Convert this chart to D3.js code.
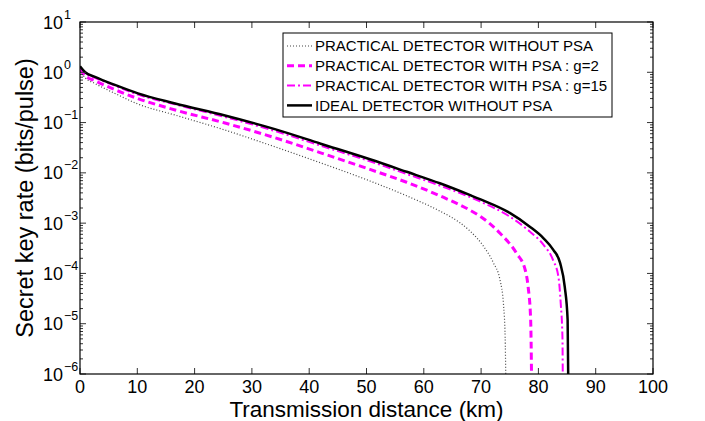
<!DOCTYPE html>
<html>
<head>
<meta charset="utf-8">
<script src="https://cdn.jsdelivr.net/npm/d3@7"></script>
<style>
  body { margin: 0; background: #fff; }
  text { font-family: "Liberation Sans", Arial, Helvetica, sans-serif; fill: #000; }
</style>
</head>
<body>
<svg width="705" height="421"></svg>
<script>
// distances (km) and key rates (bits/pulse)
const distIdeal = [0, 0.9, 2.6, 6.1, 10.1, 16.6, 25.3, 34.0, 42.0, 50.6, 57.0, 62.8, 68.1, 69.8, 75.0, 78.5, 80.9, 82.6, 83.8, 84.6, 85.1, 85.2];
const rateIdeal = [1.32, 1.0, 0.81, 0.56, 0.38, 0.24, 0.138, 0.074, 0.038, 0.0186, 0.0105, 6.2e-3, 3.6e-3, 3.0e-3, 1.6e-3, 8.5e-4, 5.0e-4, 2.95e-4, 1.6e-4, 5.4e-5, 1.2e-5, 1e-6];

const distG15 = [0, 0.9, 2.6, 6.1, 10.1, 16.6, 25.3, 34.0, 42.0, 50.6, 57.0, 62.8, 69.8, 75.0, 78.5, 80.9, 82.6, 83.5, 83.9, 84.2, 84.25];
const rateG15 = [1.26, 0.95, 0.78, 0.54, 0.36, 0.23, 0.129, 0.068, 0.0347, 0.0170, 9.5e-3, 5.6e-3, 2.7e-3, 1.35e-3, 6.8e-4, 3.7e-4, 1.8e-4, 8.5e-5, 2.5e-5, 5.2e-6, 1e-6];

const distG2 = [0, 0.9, 2.6, 6.1, 10.1, 16.6, 25.3, 34.0, 42.0, 50.6, 57.0, 62.8, 68.1, 69.8, 73.3, 76.2, 77.7, 78.2, 78.65, 78.8];
const rateG2 = [1.15, 0.85, 0.68, 0.45, 0.30, 0.178, 0.098, 0.050, 0.025, 0.0117, 6.5e-3, 3.5e-3, 1.8e-3, 1.38e-3, 6.3e-4, 2.5e-4, 1.17e-4, 5.5e-5, 1.2e-5, 1e-6];

const distNoPsa = [0, 0.9, 2.6, 6.1, 10.1, 16.6, 25.3, 34.0, 42.0, 50.6, 57.0, 62.8, 64.6, 66.3, 68.1, 70.4, 72.1, 73.3, 73.9, 74.2, 74.3];
const rateNoPsa = [1.07, 0.78, 0.60, 0.38, 0.234, 0.141, 0.071, 0.033, 0.0158, 6.9e-3, 3.5e-3, 1.74e-3, 1.35e-3, 1.02e-3, 6.9e-4, 3.5e-4, 1.66e-4, 7.4e-5, 2.5e-5, 5.2e-6, 1e-6];

const xTicks = [0, 10, 20, 30, 40, 50, 60, 70, 80, 90, 100];
const yExponents = [1, 0, -1, -2, -3, -4, -5, -6];

const legendLabels = [
  'PRACTICAL DETECTOR WITHOUT PSA',
  'PRACTICAL DETECTOR WITH PSA : g=2',
  'PRACTICAL DETECTOR WITH PSA : g=15',
  'IDEAL DETECTOR WITHOUT PSA'
];

const svg = d3.select('svg');
const plotLeft = 80, plotRight = 653, plotTop = 22, plotBottom = 374;

const x = d3.scaleLinear().domain([0, 100]).range([plotLeft, plotRight]);
const y = d3.scaleLog().domain([1e-6, 10]).range([plotBottom, plotTop]);

// series, drawn from back to front
const series = [
  { d: distNoPsa, r: rateNoPsa, color: '#444', width: 1.2, dash: '1,2' },
  { d: distG2, r: rateG2, color: '#ff00ff', width: 3, dash: '7,4' },
  { d: distG15, r: rateG15, color: '#ff00ff', width: 2, dash: '8,3,2,3' },
  { d: distIdeal, r: rateIdeal, color: '#000', width: 2.5, dash: null }
];

svg.append('clipPath').attr('id', 'plot')
  .append('rect').attr('x', plotLeft).attr('y', plotTop)
  .attr('width', plotRight - plotLeft).attr('height', plotBottom - plotTop);

const line = d3.line()
  .x(p => x(p[0]))
  .y(p => y(p[1]))
  .curve(d3.curveMonotoneX);

const g = svg.append('g').attr('clip-path', 'url(#plot)');
series.forEach(s => {
  g.append('path')
    .datum(s.d.map((v, i) => [v, s.r[i]]))
    .attr('d', line)
    .attr('fill', 'none')
    .attr('stroke', s.color)
    .attr('stroke-width', s.width)
    .attr('stroke-dasharray', s.dash);
});

// ticks, inward on all four sides
const ticks = svg.append('g').attr('stroke', '#333').attr('stroke-width', 1);
xTicks.forEach(t => {
  ticks.append('line').attr('x1', x(t)).attr('x2', x(t)).attr('y1', plotBottom).attr('y2', plotBottom - 6);
  ticks.append('line').attr('x1', x(t)).attr('x2', x(t)).attr('y1', plotTop).attr('y2', plotTop + 6);
});
yExponents.forEach(e => {
  const v = Math.pow(10, e);
  ticks.append('line').attr('x1', plotLeft).attr('x2', plotLeft + 6).attr('y1', y(v)).attr('y2', y(v));
  ticks.append('line').attr('x1', plotRight).attr('x2', plotRight - 6).attr('y1', y(v)).attr('y2', y(v));
  if (e < 1) {
    for (let m = 2; m <= 9; m++) {
      const mv = m * v;
      ticks.append('line').attr('x1', plotLeft).attr('x2', plotLeft + 3).attr('y1', y(mv)).attr('y2', y(mv));
      ticks.append('line').attr('x1', plotRight).attr('x2', plotRight - 3).attr('y1', y(mv)).attr('y2', y(mv));
    }
  }
});

// box
svg.append('rect')
  .attr('x', plotLeft).attr('y', plotTop)
  .attr('width', plotRight - plotLeft).attr('height', plotBottom - plotTop)
  .attr('fill', 'none').attr('stroke', '#000').attr('stroke-width', 1.2);

// x tick labels
svg.append('g').selectAll('text')
  .data(xTicks)
  .join('text')
  .attr('x', d => x(d))
  .attr('y', 392.8)
  .attr('text-anchor', 'middle')
  .attr('font-size', 18)
  .text(d => d);

// y tick labels 10^n
const yl = svg.append('g').selectAll('text')
  .data(yExponents)
  .join('text')
  .attr('x', 43)
  .attr('y', d => y(Math.pow(10, d)) + 6.5)
  .attr('font-size', 18);
yl.append('tspan').text('10');
yl.append('tspan')
  .attr('dy', -10)
  .attr('dx', 1)
  .attr('font-size', 12.5)
  .text(d => d < 0 ? '\u2212' + (-d) : d);

// axis titles
svg.append('text')
  .attr('x', (plotLeft + plotRight) / 2)
  .attr('y', 417)
  .attr('text-anchor', 'middle')
  .attr('font-size', 22.5)
  .text('Transmission distance (km)');

svg.append('text')
  .attr('transform', `translate(33,${(plotTop + plotBottom) / 2}) rotate(-90)`)
  .attr('text-anchor', 'middle')
  .attr('font-size', 23.5)
  .text('Secret key rate (bits/pulse)');

// legend
const legend = svg.append('g');
legend.append('rect')
  .attr('x', 283).attr('y', 33)
  .attr('width', 329).attr('height', 84)
  .attr('fill', '#fff').attr('stroke', '#000').attr('stroke-width', 1);

legendLabels.forEach((label, i) => {
  const s = series[i];
  const cy = 46 + i * 19.8;
  legend.append('line')
    .attr('x1', 287).attr('x2', 312)
    .attr('y1', cy).attr('y2', cy)
    .attr('stroke', s.color)
    .attr('stroke-width', s.width)
    .attr('stroke-dasharray', s.dash);
  legend.append('text')
    .attr('x', 315)
    .attr('y', cy + 5.3)
    .attr('font-size', 15)
    .text(label);
});
</script>
</body>
</html>
